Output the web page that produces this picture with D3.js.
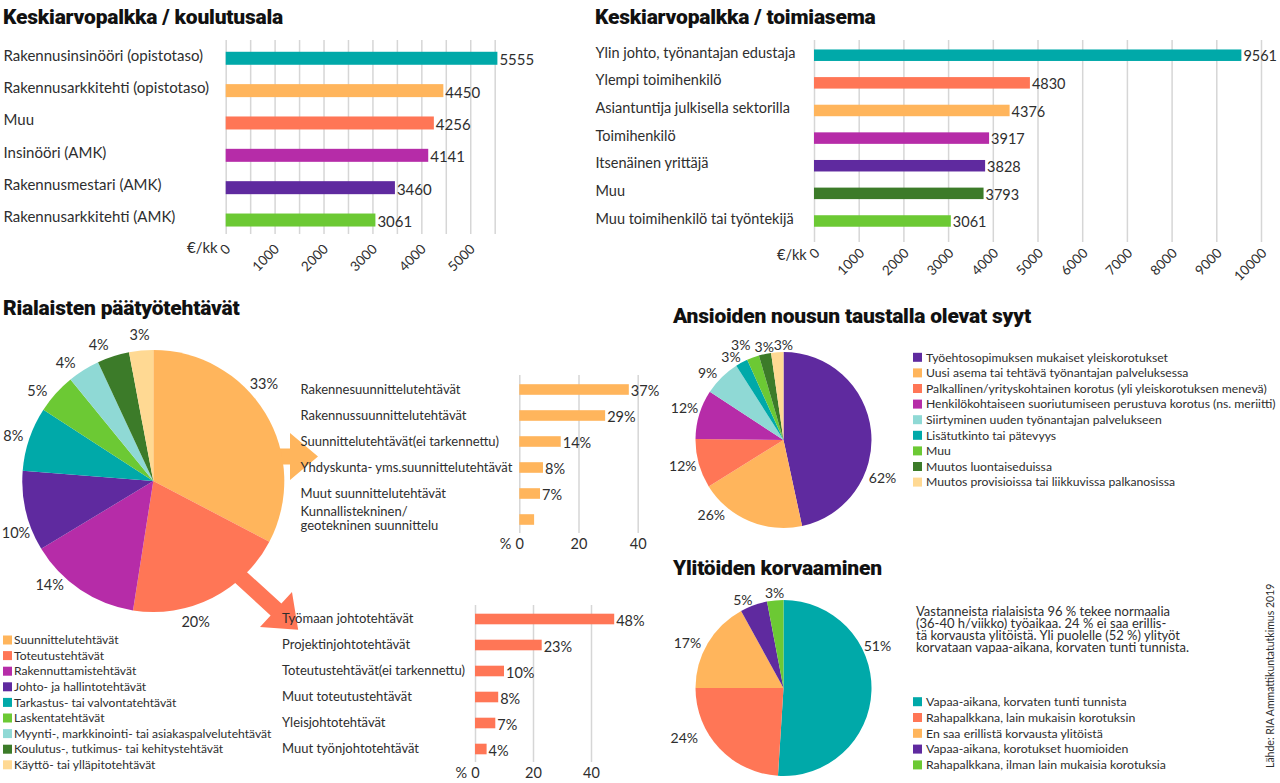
<!DOCTYPE html>
<html>
<head>
<meta charset="utf-8">
<title>RIA Ammattikuntatutkimus 2019</title>
<script src="https://cdn.jsdelivr.net/npm/d3@7"></script>
<style>
  body { margin: 0; background: #fff; }
  svg text { font-family: Lato, "Open Sans", sans-serif; fill: #2e2e2e; }
  svg .title { font-family: Roboto, sans-serif; font-weight: 900; font-size: 21px; fill: #111; letter-spacing: -0.2px; }
  .grid line { stroke: #d6d6d6; stroke-width: 1.5; }
  .grid path { display: none; }
</style>
</head>
<body>
<script>
// colours used in the original
var teal = "#00a9a9", orange = "#ffb55c", coral = "#ff7656", magenta = "#b62ca8",
    purple = "#5f2a9f", green = "#6cc934", dkgreen = "#3c7b29", cyan = "#8fd9d5", cream = "#ffd993";

// Keskiarvopalkka / koulutusala
var eduLabels = ["Rakennusinsinööri (opistotaso)", "Rakennusarkkitehti (opistotaso)", "Muu",
                 "Insinööri (AMK)", "Rakennusmestari (AMK)", "Rakennusarkkitehti (AMK)"];
var eduValues = [5555, 4450, 4256, 4141, 3460, 3061];
var eduColors = [teal, orange, coral, magenta, purple, green];
var eduTicks = [0, 1000, 2000, 3000, 4000, 5000];

// Keskiarvopalkka / toimiasema
var posLabels = ["Ylin johto, työnantajan edustaja", "Ylempi toimihenkilö", "Asiantuntija julkisella sektorilla",
                 "Toimihenkilö", "Itsenäinen yrittäjä", "Muu", "Muu toimihenkilö tai työntekijä"];
var posValues = [9561, 4830, 4376, 3917, 3828, 3793, 3061];
var posColors = [teal, coral, orange, magenta, purple, dkgreen, green];
var posTicks = [0, 1000, 2000, 3000, 4000, 5000, 6000, 7000, 8000, 9000, 10000];

// Rialaisten päätyötehtävät
var taskLabels = ["Suunnittelutehtävät", "Toteutustehtävät", "Rakennuttamistehtävät", "Johto- ja hallintotehtävät",
                  "Tarkastus- tai valvontatehtävät", "Laskentatehtävät", "Myynti-, markkinointi- tai asiakaspalvelutehtävät",
                  "Koulutus-, tutkimus- tai kehitystehtävät", "Käyttö- tai ylläpitotehtävät"];
var taskValues = [33, 20, 14, 10, 8, 5, 4, 4, 3];
var taskColors = [orange, coral, magenta, purple, teal, green, cyan, dkgreen, cream];

// Suunnittelutehtävät eriteltynä
var planLabels = ["Rakennesuunnittelutehtävät", "Rakennussuunnittelutehtävät", "Suunnittelutehtävät(ei tarkennettu)",
                  "Yhdyskunta- yms.suunnittelutehtävät", "Muut suunnittelutehtävät", "Kunnallistekninen/\ngeotekninen suunnittelu"];
var planValues = [37, 29, 14, 8, 7, 5];
var planShown = [true, true, true, true, true, false];

// Toteutustehtävät eriteltynä
var buildLabels = ["Työmaan johtotehtävät", "Projektinjohtotehtävät", "Toteutustehtävät(ei tarkennettu)",
                   "Muut toteutustehtävät", "Yleisjohtotehtävät", "Muut työnjohtotehtävät"];
var buildValues = [48, 23, 10, 8, 7, 4];
var subTicks = [0, 20, 40];

// Ansioiden nousun taustalla olevat syyt
var raiseLabels = ["Työehtosopimuksen mukaiset yleiskorotukset", "Uusi asema tai tehtävä työnantajan palveluksessa",
                   "Palkallinen/yrityskohtainen korotus (yli yleiskorotuksen menevä)",
                   "Henkilökohtaiseen suoriutumiseen perustuva korotus (ns. meriitti)",
                   "Siirtyminen uuden työnantajan palvelukseen", "Lisätutkinto tai pätevyys", "Muu",
                   "Muutos luontaiseduissa", "Muutos provisioissa tai liikkuvissa palkanosissa"];
var raiseValues = [62, 26, 12, 12, 9, 3, 3, 3, 3];
var raiseColors = [purple, orange, coral, magenta, cyan, teal, green, dkgreen, cream];

// Ylitöiden korvaaminen
var otLabels = ["Vapaa-aikana, korvaten tunti tunnista", "Rahapalkkana, lain mukaisin korotuksin",
                "En saa erillistä korvausta ylitöistä", "Vapaa-aikana, korotukset huomioiden",
                "Rahapalkkana, ilman lain mukaisia korotuksia"];
var otValues = [51, 24, 17, 5, 3];
var otColors = [teal, coral, orange, purple, green];
var otNote = ["Vastanneista rialaisista 96 % tekee normaalia", "(36-40 h/viikko) työaikaa. 24 % ei saa erillis-",
              "tä korvausta ylitöistä. Yli puolelle (52 %) ylityöt", "korvataan vapaa-aikana, korvaten tunti tunnista."];

var svg = d3.select("body").append("svg").attr("width", 1280).attr("height", 783);

// ---------- main horizontal bar charts ----------
function salaryChart(o) {
  var x = d3.scaleLinear().domain([0, o.max]).range(o.xr);
  var y = d3.scalePoint().domain(d3.range(o.values.length)).range(o.yr).padding(0.5);
  var g = svg.append("g");

  g.append("g").attr("class", "grid")
    .attr("transform", "translate(0," + o.gridBottom + ")")
    .call(d3.axisBottom(x).tickValues(d3.range(0, o.max + 1, o.gridStep))
      .tickSize(-(o.gridBottom - o.gridTop)).tickFormat(""));

  g.selectAll("rect.bar").data(o.values).enter().append("rect")
    .attr("x", x(0)).attr("y", function(d, i) { return y(i) - o.barH / 2; })
    .attr("width", function(d) { return x(d) - x(0); }).attr("height", o.barH)
    .attr("fill", function(d, i) { return o.colors[i]; });

  g.selectAll("text.val").data(o.values).enter().append("text")
    .attr("x", function(d) { return x(d) + 2; })
    .attr("y", function(d, i) { return y(i) + o.barH / 2 + 0.5; })
    .style("font-size", o.fs + "px").text(function(d) { return d; });

  g.selectAll("text.cat").data(o.labels).enter().append("text")
    .attr("x", o.labelX).attr("y", function(d, i) { return y(i) + o.labelDy; })
    .attr("dy", "0.35em").style("font-size", o.fs + "px").text(function(d) { return d; });

  var ax = g.append("g").attr("transform", "translate(0," + o.tickY + ")")
    .call(d3.axisBottom(x).tickValues(o.ticks).tickSize(0).tickFormat(d3.format("d")));
  ax.select(".domain").remove();
  ax.selectAll("text").attr("x", null).attr("y", null).attr("dy", null)
    .attr("transform", "translate(" + o.tickDx + ",0) rotate(-45)")
    .attr("text-anchor", "end").attr("fill", "#2e2e2e")
    .style("font-family", "Lato, sans-serif").style("font-size", "13.5px");

  g.append("text").attr("x", o.unitX).attr("y", o.unitY).attr("dy", "0.35em")
    .style("font-size", o.fs + "px").text("€/kk");
}

svg.append("text").attr("class", "title").attr("x", 3).attr("y", 24).text("Keskiarvopalkka / koulutusala");
salaryChart({ labels: eduLabels, values: eduValues, colors: eduColors, ticks: eduTicks,
  max: 5500, gridStep: 500, xr: [225.7, 494.7], yr: [42.1, 236.2], barH: 13,
  gridTop: 40, gridBottom: 234, labelX: 3.5, labelDy: -3, fs: 15, tickY: 250, tickDx: 5,
  unitX: 187, unitY: 248 });

svg.append("text").attr("class", "title").attr("x", 595).attr("y", 24).text("Keskiarvopalkka / toimiasema");
salaryChart({ labels: posLabels, values: posValues, colors: posColors, ticks: posTicks,
  max: 10000, gridStep: 1000, xr: [814, 1261], yr: [41.4, 234.8], barH: 11.5,
  gridTop: 40, gridBottom: 242, labelX: 595.5, labelDy: -2.5, fs: 14.5, tickY: 254, tickDx: 6,
  unitX: 777, unitY: 255 });

// ---------- pies ----------
function pie(o) {
  var arcs = d3.pie().sort(null).value(function(d) { return d; })(o.values);
  var arc = d3.arc().innerRadius(0).outerRadius(o.r);
  var g = svg.append("g").attr("transform", "translate(" + o.cx + "," + o.cy + ")");
  g.selectAll("path").data(arcs).enter().append("path")
    .attr("d", arc).attr("fill", function(d, i) { return o.colors[i]; });
  g.selectAll("text").data(arcs).enter().append("text")
    .attr("transform", function(d, i) {
      var a = (d.startAngle + d.endAngle) / 2 + (o.shift[i] || 0) * Math.PI / 180;
      var rr = o.labelR[i] || o.lr;
      return "translate(" + (Math.sin(a) * rr) + "," + (-Math.cos(a) * rr) + ")";
    })
    .attr("text-anchor", "middle").attr("dy", "0.35em").style("font-size", o.fs + "px")
    .text(function(d) { return d.data + "%"; });
}

function legend(o) {
  var g = svg.append("g");
  var row = g.selectAll("g").data(o.labels).enter().append("g")
    .attr("transform", function(d, i) { return "translate(" + o.x + "," + (o.y + i * o.step) + ")"; });
  row.append("rect").attr("x", 0).attr("y", -4.5).attr("width", 9).attr("height", 9)
    .attr("fill", function(d, i) { return o.colors[i]; });
  row.append("text").attr("x", o.tx).attr("dy", "0.35em").style("font-size", o.fs + "px")
    .text(function(d) { return d; });
}

function arrow(cx, cy, deg, shaftLen, shaftW, headLen, headW, color) {
  var a = deg * Math.PI / 180, ux = Math.cos(a), uy = Math.sin(a), px = -uy, py = ux;
  function p(l, w) { return [cx + ux * l + px * w, cy + uy * l + py * w]; }
  var pts = [p(-shaftLen, -shaftW), p(0, -shaftW), p(0, -headW), p(headLen, 0),
             p(0, headW), p(0, shaftW), p(-shaftLen, shaftW)];
  svg.append("path").attr("d", d3.line()(pts) + "Z").attr("fill", color);
}

// Rialaisten päätyötehtävät
svg.append("text").attr("class", "title").attr("x", 3).attr("y", 315).text("Rialaisten päätyötehtävät");
arrow(290, 456.5, 0, 30, 8, 28, 23.5, orange);
arrow(276, 609.5, 42.4, 62, 8, 30, 23.7, coral);
pie({ values: taskValues, colors: taskColors, cx: 153.3, cy: 481, r: 131, lr: 147, fs: 14.5,
  shift: [-10, 10, 11, -7.5, -1, -4, -4.5, -4, 0], labelR: [] });
legend({ labels: taskLabels, colors: taskColors, x: 3, y: 640, step: 15.6, tx: 11, fs: 12.1 });

// sub bar charts
function subChart(o) {
  var x = d3.scaleLinear().domain([0, 40]).range(o.xr);
  var y = d3.scalePoint().domain(d3.range(o.values.length)).range(o.yr).padding(0.5);
  var g = svg.append("g");
  g.append("g").attr("class", "grid").attr("transform", "translate(0," + o.gridBottom + ")")
    .call(d3.axisBottom(x).tickValues(subTicks).tickSize(-(o.gridBottom - o.gridTop)).tickFormat(""));
  g.selectAll("rect").data(o.values).enter().append("rect")
    .attr("x", x(0)).attr("y", function(d, i) { return y(i) - 5.3; })
    .attr("width", function(d) { return x(d) - x(0); }).attr("height", 10.6).attr("fill", o.color);
  g.selectAll("text.val").data(o.values).enter().append("text")
    .filter(function(d, i) { return o.shown[i]; })
    .attr("x", function(d) { return x(d) + 2; }).attr("y", function(d, i) { return y(i) + 6.5; })
    .style("font-size", "14.5px").text(function(d) { return d + "%"; });
  g.selectAll("text.cat").data(o.labels).enter().append("text")
    .attr("x", o.labelX).attr("y", function(d, i) { return y(i) - 0.5; })
    .style("font-size", "13px")
    .each(function(d) {
      var lines = d.split("\n"), t = d3.select(this);
      lines.forEach(function(l, k) {
        t.append("tspan").attr("x", o.labelX)
          .attr("dy", k === 0 ? (lines.length > 1 ? "-0.2em" : "0.35em") : "1.05em").text(l);
      });
    });
  var ax = g.append("g").attr("transform", "translate(0," + o.gridBottom + ")")
    .call(d3.axisBottom(x).tickValues(subTicks).tickSize(0).tickPadding(6));
  ax.select(".domain").remove();
  ax.selectAll("text").attr("fill", "#2e2e2e").style("font-family", "Lato, sans-serif").style("font-size", "14.5px");
  g.append("text").attr("x", x(0) - 8).attr("y", o.gridBottom + 6).attr("dy", "0.71em")
    .attr("text-anchor", "end").style("font-size", "14.5px").text("%");
}
subChart({ labels: planLabels, values: planValues, shown: planShown, color: orange,
  xr: [519.3, 637.7], yr: [376.5, 532.5], gridTop: 375, gridBottom: 533, labelX: 300.5 });
subChart({ labels: buildLabels, values: buildValues, shown: buildValues.map(function() { return true; }), color: coral,
  xr: [475, 591], yr: [606, 762], gridTop: 605, gridBottom: 762, labelX: 282 });

// Ansioiden nousun taustalla olevat syyt
svg.append("text").attr("class", "title").attr("x", 673).attr("y", 323).text("Ansioiden nousun taustalla olevat syyt");
pie({ values: raiseValues, colors: raiseColors, cx: 783.5, cy: 440, r: 88, lr: 102, fs: 14,
  shift: [27, 21, 1, 1, -4, -4, -4, 0.5, 4], labelR: [106, 104, 104, 104, 101, 98, 104, 95, 95] });
legend({ labels: raiseLabels, colors: raiseColors, x: 913, y: 357.3, step: 15.6, tx: 13, fs: 12.2 });

// Ylitöiden korvaaminen
svg.append("text").attr("class", "title").attr("x", 673).attr("y", 575).text("Ylitöiden korvaaminen");
pie({ values: otValues, colors: otColors, cx: 783.5, cy: 688, r: 88, lr: 103, fs: 14,
  shift: [-26, 16.5, -5.6, -5, 0], labelR: [103, 111, 106, 97, 95] });
legend({ labels: otLabels, colors: otColors, x: 913, y: 701.7, step: 15.8, tx: 13, fs: 12.3 });

var note = svg.append("text").attr("x", 916).attr("y", 616).style("font-size", "13px");
note.selectAll("tspan").data(otNote).enter().append("tspan")
  .attr("x", 916).attr("dy", function(d, i) { return i === 0 ? 0 : 12; })
  .text(function(d) { return d; });

svg.append("text").attr("transform", "translate(1274,768) rotate(-90)")
  .style("font-size", "10.5px").text("Lähde: RIA Ammattikuntatutkimus 2019");
</script>
</body>
</html>
